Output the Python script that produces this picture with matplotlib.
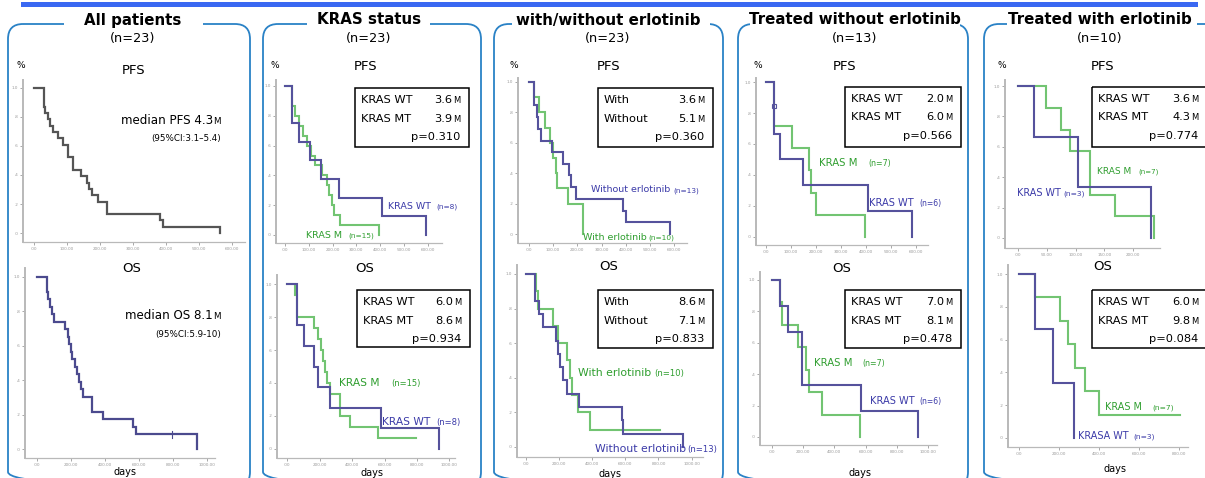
import matplotlib
matplotlib.use('Agg')
import matplotlib.pyplot as plt
from matplotlib.patches import FancyBboxPatch, Rectangle
from matplotlib.transforms import Affine2D

W, H = 1205, 478

# ── Kaplan-Meier step data (days, survival fraction) ─────────────────────────
all_pfs_days = [0, 31, 35, 43, 48, 59, 74, 89, 104, 119, 144, 162, 168, 175, 195, 222, 382, 392, 564]
all_pfs_surv = [1.0, 0.870, 0.826, 0.783, 0.739, 0.696, 0.652, 0.609, 0.522, 0.435, 0.391, 0.348,
                0.304, 0.261, 0.217, 0.130, 0.087, 0.043, 0.0]
all_os_days = [0, 57, 66, 76, 86, 100, 165, 180, 190, 198, 205, 224, 237, 249, 259, 269, 322, 390,
               567, 582, 939]
all_os_surv = [1.0, 0.913, 0.870, 0.826, 0.783, 0.739, 0.696, 0.652, 0.609, 0.565, 0.522, 0.478,
               0.435, 0.391, 0.348, 0.304, 0.217, 0.174, 0.130, 0.087, 0.0]
all_os_censored = [792]

kras_pfs_wt_days = [0, 28, 60, 105, 151, 228, 406, 591]
kras_pfs_wt_surv = [1.0, 0.75, 0.625, 0.5, 0.375, 0.25, 0.125, 0.0]
kras_pfs_mt_days = [0, 31, 40, 60, 77, 91, 108, 126, 154, 175, 185, 196, 206, 231, 396]
kras_pfs_mt_surv = [1.0, 0.867, 0.8, 0.733, 0.667, 0.6, 0.533, 0.467, 0.4, 0.333, 0.267, 0.2,
                    0.133, 0.067, 0.0]
kras_os_wt_days = [0, 60, 64, 105, 166, 193, 265, 576, 938]
kras_os_wt_surv = [1.0, 0.875, 0.75, 0.625, 0.5, 0.375, 0.25, 0.125, 0.0]
kras_os_mt_days = [0, 49, 64, 166, 193, 207, 219, 234, 244, 265, 326, 388, 562, 794]
kras_os_mt_surv = [1.0, 0.933, 0.8, 0.733, 0.667, 0.6, 0.533, 0.467, 0.4, 0.333, 0.2, 0.133,
                   0.067, 0.067]

erl_pfs_without_days = [0, 22, 32, 39, 52, 94, 142, 167, 174, 194, 390, 401, 583]
erl_pfs_without_surv = [1.0, 0.846, 0.769, 0.692, 0.615, 0.538, 0.462, 0.385, 0.308, 0.231,
                        0.154, 0.077, 0.0]
erl_pfs_with_days = [0, 22, 43, 66, 87, 98, 114, 118, 160, 222]
erl_pfs_with_surv = [1.0, 0.9, 0.8, 0.7, 0.6, 0.5, 0.4, 0.3, 0.2, 0.0]
erl_os_without_days = [0, 54, 81, 101, 181, 195, 205, 222, 250, 322, 578, 588, 951]
erl_os_without_surv = [1.0, 0.846, 0.769, 0.692, 0.615, 0.538, 0.462, 0.385, 0.308, 0.231,
                       0.154, 0.077, 0.0]
erl_os_with_days = [0, 60, 75, 165, 195, 246, 266, 276, 317, 387, 810]
erl_os_with_surv = [1.0, 0.9, 0.8, 0.7, 0.6, 0.5, 0.4, 0.3, 0.2, 0.1, 0.1]

woe_pfs_wt_days = [0, 33, 56, 149, 407, 585]
woe_pfs_wt_surv = [1.0, 0.667, 0.5, 0.333, 0.167, 0.0]
woe_pfs_wt_censored = [(33, 0.845)]
woe_pfs_mt_days = [0, 33, 103, 172, 180, 199, 396]
woe_pfs_mt_surv = [1.0, 0.714, 0.571, 0.429, 0.286, 0.143, 0.0]
woe_os_wt_days = [0, 51, 105, 190, 571, 934]
woe_os_wt_surv = [1.0, 0.833, 0.667, 0.333, 0.167, 0.0]
woe_os_mt_days = [0, 51, 62, 164, 216, 237, 318, 564]
woe_os_mt_surv = [1.0, 0.857, 0.714, 0.571, 0.429, 0.286, 0.143, 0.0]

we_pfs_wt_days = [0, 28, 104, 231]
we_pfs_wt_surv = [1.0, 0.667, 0.333, 0.0]
we_pfs_mt_days = [0, 49, 75, 90, 125, 169, 237]
we_pfs_mt_surv = [1.0, 0.857, 0.714, 0.571, 0.286, 0.143, 0.0]
we_os_wt_days = [0, 80, 172, 275]
we_os_wt_surv = [1.0, 0.667, 0.333, 0.0]
we_os_mt_days = [0, 80, 205, 243, 280, 330, 400, 805]
we_os_mt_surv = [1.0, 0.857, 0.714, 0.571, 0.429, 0.286, 0.143, 0.143]

# ── panel texts ──────────────────────────────────────────────────────────────
panel_titles = ['All patients', 'KRAS status', 'with/without erlotinib',
                'Treated without erlotinib', 'Treated with erlotinib']
panel_n = ['(n=23)', '(n=23)', '(n=23)', '(n=13)', '(n=10)']

kras_rows = ['KRAS WT', 'KRAS MT']
erl_rows = ['With', 'Without']
kras_pfs_med, kras_pfs_p = ['3.6', '3.9'], '0.310'
kras_os_med, kras_os_p = ['6.0', '8.6'], '0.934'
erl_pfs_med, erl_pfs_p = ['3.6', '5.1'], '0.360'
erl_os_med, erl_os_p = ['8.6', '7.1'], '0.833'
woe_pfs_med, woe_pfs_p = ['2.0', '6.0'], '0.566'
woe_os_med, woe_os_p = ['7.0', '8.1'], '0.478'
we_pfs_med, we_pfs_p = ['3.6', '4.3'], '0.774'
we_os_med, we_os_p = ['6.0', '9.8'], '0.084'

BLUE_LINE = '#55529c'
GREEN_LINE = '#72c472'
BLUE_TXT = '#3b3aa8'
GREEN_TXT = '#2f9e2f'
FRAME = '#2a82c6'

plt.rcParams['font.family'] = ['DejaVu Sans']

fig = plt.figure(figsize=(W / 100, H / 100), dpi=100)
pxt = Affine2D().scale(1 / W, -1 / H).translate(0, 1) + fig.transFigure


def ftext(x, y, s, **kw):
    kw.setdefault('color', 'black')
    return fig.text(x / W, 1 - y / H, s, **kw)


def km_axes(x0, y0, x1, y1, xlim, ylim, xticks):
    ax = fig.add_axes([x0 / W, 1 - y1 / H, (x1 - x0) / W, (y1 - y0) / H])
    ax.patch.set_alpha(0)
    ax.set_xlim(*xlim)
    ax.set_ylim(*ylim)
    ax.set_xticks(xticks)
    ax.set_xticklabels(['.00' if v == 0 else f'{v:.2f}' for v in xticks])
    ax.set_yticks([0, 0.2, 0.4, 0.6, 0.8, 1.0])
    ax.set_yticklabels(['.0', '.2', '.4', '.6', '.8', '1.0'])
    ax.spines[['top', 'right']].set_visible(False)
    ax.spines[['left', 'bottom']].set_color('#b9b9b9')
    ax.spines['left'].set_linewidth(1.4)
    ax.spines['bottom'].set_linewidth(0.9)
    ax.tick_params(length=2, width=0.6, colors='#9a9a9a', labelsize=3, pad=1.5)
    return ax


def km(ax, days, surv, color, lw=1.5):
    ax.step(days, surv, where='post', color=color, lw=lw, solid_joinstyle='miter')


def med_box(x0, y0, x1, y1, rows, vals, p, xr=None):
    fig.add_artist(Rectangle((x0, y0), x1 - x0, y1 - y0, transform=pxt, fill=False,
                             ec='black', lw=1.1))
    xr = x1 - 9 if xr is None else xr
    for i, (r, v) in enumerate(zip(rows, vals)):
        yb = y0 + 15 + 18.5 * i
        ftext(x0 + 6, yb, r, fontsize=8.2, va='baseline')
        ftext(xr - 7.5, yb, v, fontsize=8.2, va='baseline', ha='right')
        ftext(xr, yb, 'M', fontsize=6, va='baseline', ha='right')
    ftext(xr, y0 + 52, f'p={p}', fontsize=8.2, va='baseline', ha='right')


def curve_label(x, y, name, n, color, size, nx):
    ftext(x, y, name, fontsize=size, color=color, va='center')
    ftext(nx, y + 0.5, n, fontsize=size * 0.78, color=color, va='center')


# ── frame: top bar and rounded panels ───────────────────────────────────────
fig.add_artist(Rectangle((21, 2), 1177, 5, transform=pxt, color='#3a68f2', lw=0))

panel_boxes = [(8, 24, 250, 487), (263, 24, 481, 487), (494, 24, 723, 487),
               (738, 24, 968, 487), (984, 24, 1240, 487)]
title_gaps = [(64, 203), (307, 430), (512, 710), (750, 960), (1007, 1197)]
title_x = [133, 369, 608, 855, 1100]
for (x0, y0, x1, y1), (g0, g1), tx, title, n in zip(panel_boxes, title_gaps, title_x,
                                                     panel_titles, panel_n):
    fig.add_artist(FancyBboxPatch((x0, y0), x1 - x0, y1 - y0,
                                  boxstyle='round,pad=0,rounding_size=15', transform=pxt,
                                  fill=False, ec=FRAME, lw=1.3))
    fig.add_artist(Rectangle((g0, 18), g1 - g0, 12, transform=pxt, color='white', lw=0))
    ftext(tx, 20, title, fontsize=10.8, fontweight='bold', ha='center', va='center')
    ftext(tx, 38.5, n, fontsize=9.3, ha='center', va='center')

# ── panel 1: all patients ───────────────────────────────────────────────────
ax = km_axes(23, 80, 245, 242, (-33, 639), (-0.062, 1.055), range(0, 601, 100))
km(ax, all_pfs_days, all_pfs_surv, '#555555', lw=1.6)
ax = km_axes(25, 268, 215, 458, (-71, 1047), (-0.052, 1.052), range(0, 1001, 200))
km(ax, all_os_days, all_os_surv, '#4b4a8e', lw=1.6)
for c in all_os_censored:
    ax.plot([c, c], [0.067, 0.107], color='#4b4a8e', lw=0.8)

ftext(21, 66, '%', fontsize=6.5, ha='center', va='center')
ftext(134, 71, 'PFS', fontsize=9.5, ha='center', va='center')
ftext(132, 268, 'OS', fontsize=9.5, ha='center', va='center')
ftext(213, 124, 'median PFS 4.3', fontsize=8.6, ha='right', va='baseline')
ftext(221, 124, 'M', fontsize=6.3, ha='right', va='baseline')
ftext(221, 138, '(95%CI:3.1\u20135.4)', fontsize=6.3, ha='right', va='center')
ftext(213, 319, 'median OS 8.1', fontsize=8.6, ha='right', va='baseline')
ftext(221, 319, 'M', fontsize=6.3, ha='right', va='baseline')
ftext(221, 334, '(95%CI:5.9-10)', fontsize=6.3, ha='right', va='center')
ftext(125, 472, 'days', fontsize=7, ha='center', va='center')

# ── panel 2: KRAS status ────────────────────────────────────────────────────
ax = km_axes(276, 80, 442, 243, (-38, 660), (-0.054, 1.04), range(0, 601, 100))
km(ax, kras_pfs_mt_days, kras_pfs_mt_surv, GREEN_LINE)
km(ax, kras_pfs_wt_days, kras_pfs_wt_surv, BLUE_LINE)
ax = km_axes(277, 275, 455, 458, (-62, 1034), (-0.055, 1.055), range(0, 1001, 200))
km(ax, kras_os_mt_days, kras_os_mt_surv, GREEN_LINE)
km(ax, kras_os_wt_days, kras_os_wt_surv, BLUE_LINE)

ftext(275, 66, '%', fontsize=6.5, ha='center', va='center')
ftext(366, 66, 'PFS', fontsize=9.5, ha='center', va='center')
ftext(365, 269, 'OS', fontsize=9.5, ha='center', va='center')
med_box(355, 88, 469, 147, kras_rows, kras_pfs_med, kras_pfs_p)
med_box(357, 290, 470, 347, kras_rows, kras_os_med, kras_os_p)
curve_label(388, 206, 'KRAS WT', '(n=8)', BLUE_TXT, 6.8, 436)
curve_label(306, 235, 'KRAS M', '(n=15)', GREEN_TXT, 6.8, 348)
curve_label(339, 383, 'KRAS M', '(n=15)', GREEN_TXT, 7.7, 391)
curve_label(382, 422, 'KRAS WT', '(n=8)', BLUE_TXT, 7.7, 436)
ftext(372, 473, 'days', fontsize=7, ha='center', va='center')

# ── panel 3: with / without erlotinib ───────────────────────────────────────
ax = km_axes(518, 78, 687, 243, (-45, 653), (-0.059, 1.026), range(0, 601, 100))
km(ax, erl_pfs_with_days, erl_pfs_with_surv, GREEN_LINE)
km(ax, erl_pfs_without_days, erl_pfs_without_surv, BLUE_LINE)
ax = km_axes(517, 265, 703, 457, (-54, 1069), (-0.058, 1.052), range(0, 1001, 200))
km(ax, erl_os_with_days, erl_os_with_surv, GREEN_LINE)
km(ax, erl_os_without_days, erl_os_without_surv, BLUE_LINE)

ftext(514, 66, '%', fontsize=6.5, ha='center', va='center')
ftext(609, 66, 'PFS', fontsize=9.5, ha='center', va='center')
ftext(609, 266, 'OS', fontsize=9.5, ha='center', va='center')
med_box(598, 88, 713, 147, erl_rows, erl_pfs_med, erl_pfs_p)
med_box(598, 290, 713, 348, erl_rows, erl_os_med, erl_os_p)
curve_label(591, 190, 'Without erlotinib', '(n=13)', BLUE_TXT, 6.8, 673)
curve_label(583, 237, 'With erlotinib', '(n=10)', GREEN_TXT, 6.8, 648)
curve_label(578, 373, 'With erlotinib', '(n=10)', GREEN_TXT, 7.8, 654)
curve_label(595, 449, 'Without erlotinib', '(n=13)', BLUE_TXT, 7.8, 687)
ftext(610, 474, 'days', fontsize=7, ha='center', va='center')

# ── panel 4: treated without erlotinib ──────────────────────────────────────
ax = km_axes(756, 78, 928, 245, (-40, 648), (-0.052, 1.026), range(0, 601, 100))
km(ax, woe_pfs_mt_days, woe_pfs_mt_surv, GREEN_LINE)
km(ax, woe_pfs_wt_days, woe_pfs_wt_surv, BLUE_LINE)
for cx, cy in woe_pfs_wt_censored:
    ax.plot(cx, cy, marker='s', ms=3, mfc='none', mec=BLUE_LINE, mew=0.8)
ax = km_axes(760, 272, 937, 445, (-77, 1058), (-0.051, 1.05), range(0, 1001, 200))
km(ax, woe_os_mt_days, woe_os_mt_surv, GREEN_LINE)
km(ax, woe_os_wt_days, woe_os_wt_surv, BLUE_LINE)

ftext(758, 66, '%', fontsize=6.5, ha='center', va='center')
ftext(845, 66, 'PFS', fontsize=9.5, ha='center', va='center')
ftext(842, 269, 'OS', fontsize=9.5, ha='center', va='center')
med_box(845, 87, 961, 147, kras_rows, woe_pfs_med, woe_pfs_p)
med_box(845, 290, 961, 348, kras_rows, woe_os_med, woe_os_p)
curve_label(819, 163, 'KRAS M', '(n=7)', GREEN_TXT, 7.3, 868)
curve_label(869, 203, 'KRAS WT', '(n=6)', BLUE_TXT, 7.1, 919)
curve_label(814, 363, 'KRAS M', '(n=7)', GREEN_TXT, 7.3, 862)
curve_label(870, 401, 'KRAS WT', '(n=6)', BLUE_TXT, 7.1, 919)
ftext(860, 473, 'days', fontsize=7, ha='center', va='center')

# ── panel 5: treated with erlotinib ─────────────────────────────────────────
ax = km_axes(1005, 80, 1160, 248, (-23, 247), (-0.066, 1.04), range(0, 201, 50))
km(ax, we_pfs_mt_days, we_pfs_mt_surv, GREEN_LINE)
km(ax, we_pfs_wt_days, we_pfs_wt_surv, BLUE_LINE)
ax = km_axes(1008, 265, 1188, 447, (-55, 845), (-0.055, 1.055), range(0, 801, 200))
km(ax, we_os_mt_days, we_os_mt_surv, GREEN_LINE)
km(ax, we_os_wt_days, we_os_wt_surv, BLUE_LINE)

ftext(1002, 66, '%', fontsize=6.5, ha='center', va='center')
ftext(1103, 66, 'PFS', fontsize=9.5, ha='center', va='center')
ftext(1103, 266, 'OS', fontsize=9.5, ha='center', va='center')
med_box(1092, 87, 1215, 147, kras_rows, we_pfs_med, we_pfs_p, xr=1198)
med_box(1092, 290, 1215, 348, kras_rows, we_os_med, we_os_p, xr=1198)
curve_label(1097, 171, 'KRAS M', '(n=7)', GREEN_TXT, 6.5, 1138)
curve_label(1017, 193, 'KRAS WT', '(n=3)', BLUE_TXT, 6.9, 1063)
curve_label(1105, 407, 'KRAS M', '(n=7)', GREEN_TXT, 6.9, 1152)
curve_label(1078, 436, 'KRASA WT', '(n=3)', BLUE_TXT, 6.9, 1133)
ftext(1115, 469, 'days', fontsize=7, ha='center', va='center')

fig.savefig('out.png', dpi=100, facecolor='white')
